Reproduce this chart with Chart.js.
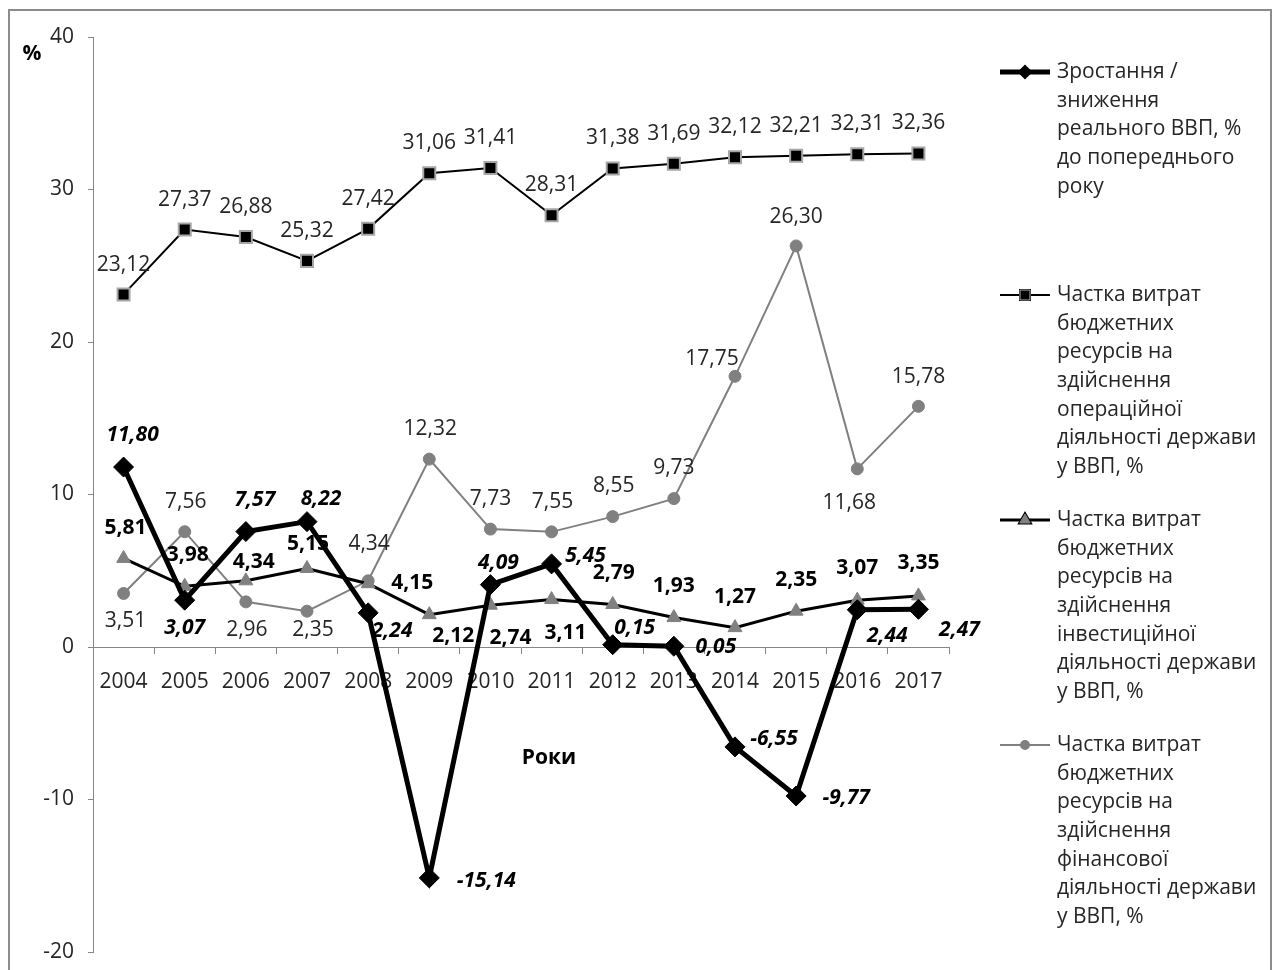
<!DOCTYPE html>
<html>
<head>
<meta charset="utf-8">
<script src="https://cdn.jsdelivr.net/npm/chart.js@4.4.0/dist/chart.umd.min.js"></script>
<style>
  html, body { margin: 0; padding: 0; background: #fff; }
  #wrap { width: 1277px; height: 970px; position: relative; }
</style>
</head>
<body>
<div id="wrap"><canvas id="c" width="1277" height="970"></canvas></div>
<script>
// ---- data ----
const years = ['2004','2005','2006','2007','2008','2009','2010','2011','2012','2013','2014','2015','2016','2017'];
const gdpGrowth = [11.80, 3.07, 7.57, 8.22, 2.24, -15.14, 4.09, 5.45, 0.15, 0.05, -6.55, -9.77, 2.44, 2.47];
const operationalShare = [23.12, 27.37, 26.88, 25.32, 27.42, 31.06, 31.41, 28.31, 31.38, 31.69, 32.12, 32.21, 32.31, 32.36];
const investmentShare = [5.81, 3.98, 4.34, 5.15, 4.15, 2.12, 2.74, 3.11, 2.79, 1.93, 1.27, 2.35, 3.07, 3.35];
const financialShare = [3.51, 7.56, 2.96, 2.35, 4.34, 12.32, 7.73, 7.55, 8.55, 9.73, 17.75, 26.30, 11.68, 15.78];
const yTicks = { min: -20, max: 40, step: 10 };

const seriesNames = [
  ['Зростання /', 'зниження', 'реального ВВП, %', 'до попереднього', 'року'],
  ['Частка витрат', 'бюджетних', 'ресурсів на', 'здійснення', 'операційної', 'діяльності держави', 'у ВВП, %'],
  ['Частка витрат', 'бюджетних', 'ресурсів на', 'здійснення', 'інвестиційної', 'діяльності держави', 'у ВВП, %'],
  ['Частка витрат', 'бюджетних', 'ресурсів на', 'здійснення', 'фінансової', 'діяльності держави', 'у ВВП, %']
];
const yAxisTitle = '%';
const xAxisTitle = 'Роки';

// ---- label placement (pixel offsets from each point) ----
const gdpLabelOffsets = [[9,-32],[0,28],[9,-32],[14,-23],[24,18],[57,3],[8,-22],[34,-8],[22,-17],[42,1],[39,-8],[50,2],[30,26],[41,21]];
const operLabelOffsets = [[0,-29],[0,-30],[0,-30],[0,-30],[0,-30],[0,-30],[0,-30],[0,-30],[0,-30],[0,-30],[0,-30],[0,-30],[0,-30],[0,-30]];
const investLabelOffsets = [[2,-30],[3,-31],[8,-19],[1,-24],[44,-1],[24,21],[20,33],[14,33],[1,-31],[0,-32],[0,-31],[0,-31],[0,-32],[0,-33]];
const finLabelOffsets = [[2,28],[1,-30],[1,28],[6,19],[1,-37],[1,-30],[0,-30],[1,-30],[1,-31],[0,-31],[-23,-17],[0,-29],[-8,34],[0,-29]];

const FONT = "'Open Sans', 'Noto Sans', sans-serif";
const FS = 21;
const GRAY = '#808080';
const AXIS = '#868686';
const TXT = '#262626';

const fmt = v => v.toFixed(2).replace('.', ',');

const labelStyles = [
  { offsets: gdpLabelOffsets, font: `italic bold ${FS}px ` + FONT, color: '#000' },
  { offsets: operLabelOffsets, font: `${FS}px ` + FONT, color: TXT },
  { offsets: investLabelOffsets, font: `bold ${FS}px ` + FONT, color: '#000' },
  { offsets: finLabelOffsets, font: `${FS}px ` + FONT, color: TXT }
];

const frameAndBg = {
  id: 'frameAndBg',
  beforeDraw(chart) {
    const ctx = chart.ctx;
    ctx.save();
    ctx.fillStyle = '#fff';
    ctx.fillRect(0, 0, chart.width, chart.height);
    ctx.strokeStyle = '#8c8c8c';
    ctx.lineWidth = 2;
    ctx.strokeRect(9, 10, 1262, 1000);
    ctx.restore();
  }
};

const dataLabels = {
  id: 'dataLabels',
  afterDatasetsDraw(chart) {
    const ctx = chart.ctx;
    ctx.save();
    ctx.textAlign = 'center';
    ctx.textBaseline = 'middle';
    chart.data.datasets.forEach((ds, i) => {
      const meta = chart.getDatasetMeta(i);
      const st = labelStyles[i];
      ctx.font = st.font;
      ctx.fillStyle = st.color;
      meta.data.forEach((pt, j) => {
        const off = st.offsets[j];
        ctx.fillText(fmt(ds.data[j]), pt.x + off[0], pt.y + off[1]);
      });
    });
    // axis titles
    ctx.font = `bold ${FS}px ` + FONT;
    ctx.fillStyle = '#000';
    ctx.fillText(yAxisTitle, 32, 54);
    ctx.fillText(xAxisTitle, 549, 758);
    ctx.restore();
  }
};

const legendPlugin = {
  id: 'customLegend',
  afterDraw(chart) {
    const ctx = chart.ctx;
    const x0 = 1000, x1 = 1050, tx = 1057, lh = 28.7;
    const tops = [72, 295, 520, 745];
    ctx.save();
    chart.data.datasets.forEach((ds, i) => {
      const y = tops[i];
      ctx.beginPath();
      ctx.strokeStyle = ds.borderColor;
      ctx.lineWidth = ds.borderWidth;
      ctx.moveTo(x0, y);
      ctx.lineTo(x1, y);
      ctx.stroke();
      const r = ds.legendRadius;
      Chart.helpers.drawPoint(ctx, {
        pointStyle: ds.pointStyle, rotation: 0, radius: r,
        borderWidth: 1
      }, (x0 + x1) / 2, y);
      ctx.fillStyle = ds.pointBackgroundColor;
      ctx.strokeStyle = ds.pointBorderColor;
      ctx.lineWidth = 1;
      ctx.fill();
      ctx.stroke();
      ctx.font = `${FS}px ` + FONT;
      ctx.fillStyle = TXT;
      ctx.textAlign = 'left';
      ctx.textBaseline = 'middle';
      seriesNames[i].forEach((line, k) => ctx.fillText(line, tx, y + k * lh));
    });
    ctx.restore();
  }
};

const chart = new Chart(document.getElementById('c'), {
  type: 'line',
  data: {
    labels: years,
    datasets: [
      {
        label: seriesNames[0].join(' '), data: gdpGrowth,
        borderColor: '#000', borderWidth: 5,
        pointStyle: 'rectRot', pointRadius: 10, pointBackgroundColor: '#000', pointBorderColor: '#000', pointBorderWidth: 1,
        legendRadius: 4, tension: 0
      },
      {
        label: seriesNames[1].join(' '), data: operationalShare,
        borderColor: '#000', borderWidth: 2,
        pointStyle: 'rect', pointRadius: 8.5, pointBackgroundColor: '#000', pointBorderColor: '#a6a6a6', pointBorderWidth: 2,
        legendRadius: 7, tension: 0
      },
      {
        label: seriesNames[2].join(' '), data: investmentShare,
        borderColor: '#000', borderWidth: 3,
        pointStyle: 'triangle', pointRadius: 8, pointBackgroundColor: GRAY, pointBorderColor: GRAY, pointBorderWidth: 1,
        legendRadius: 6, tension: 0
      },
      {
        label: seriesNames[3].join(' '), data: financialShare,
        borderColor: GRAY, borderWidth: 2,
        pointStyle: 'circle', pointRadius: 6, pointBackgroundColor: GRAY, pointBorderColor: GRAY, pointBorderWidth: 1,
        legendRadius: 4, tension: 0
      }
    ]
  },
  options: {
    responsive: false,
    animation: false,
    devicePixelRatio: 1,
    layout: { padding: { left: 0, right: 328, top: 37, bottom: 18 } },
    plugins: { legend: { display: false }, tooltip: { enabled: false } },
    scales: {
      x: {
        type: 'category',
        position: { y: 0 },
        offset: true,
        afterFit(scale) { scale.paddingTop = 0; scale.paddingBottom = 0; },
        grid: { offset: true, drawOnChartArea: false, drawTicks: true, tickLength: 6, color: AXIS },
        border: { display: true, color: AXIS, width: 1 },
        ticks: { color: TXT, font: { family: FONT, size: FS }, padding: 16, maxRotation: 0, autoSkip: false }
      },
      y: {
        min: yTicks.min, max: yTicks.max,
        afterFit(scale) { scale.width = 93; scale.paddingTop = 0; scale.paddingBottom = 0; },
        grid: { drawOnChartArea: false, drawTicks: true, tickLength: 5, color: AXIS },
        border: { display: true, color: AXIS, width: 1 },
        ticks: { stepSize: yTicks.step, color: TXT, font: { family: FONT, size: FS }, padding: 14 }
      }
    }
  },
  plugins: [frameAndBg, dataLabels, legendPlugin]
});
</script>
</body>
</html>
